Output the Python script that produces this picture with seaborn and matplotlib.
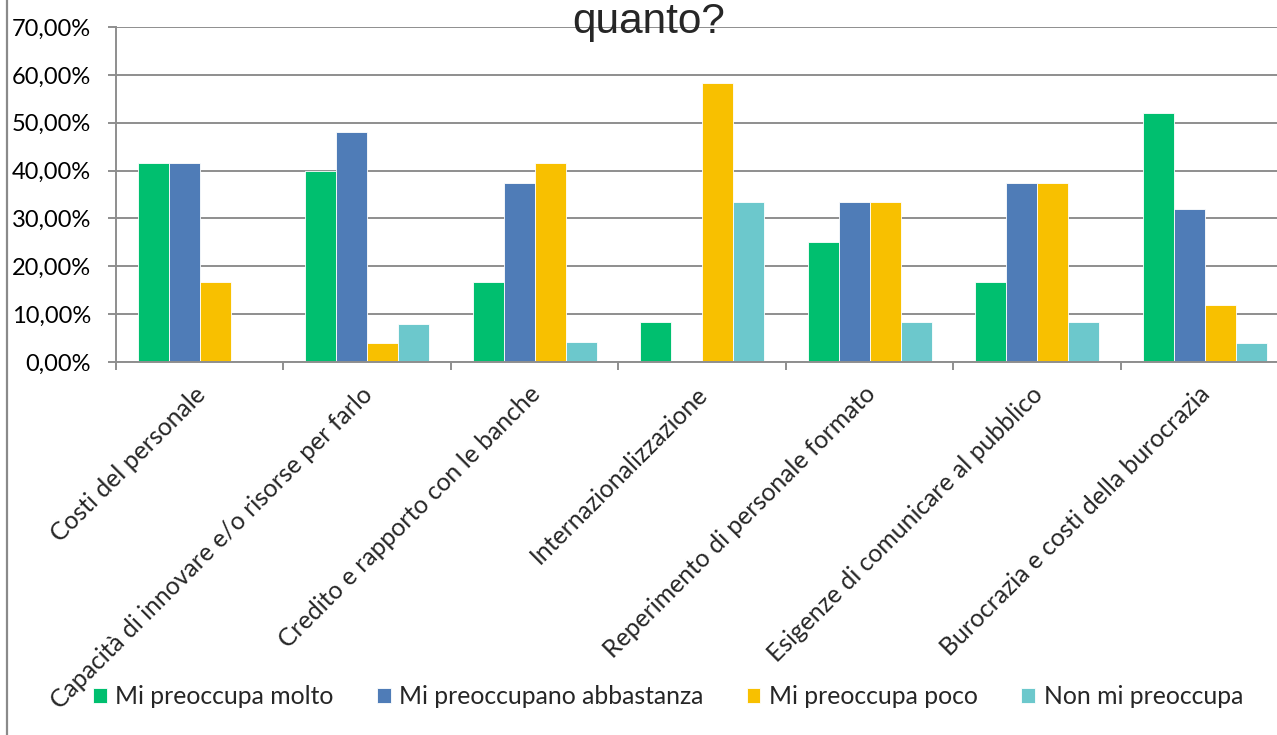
# Imports

import pandas as pd
import matplotlib
matplotlib.use("Agg")
import matplotlib.pyplot as plt
from matplotlib.ticker import FuncFormatter, MultipleLocator
from matplotlib.lines import Line2D
from matplotlib.transforms import ScaledTranslation
import seaborn as sns

# Data

CATEGORIES = [
    "Costi del personale",
    "Capacità di innovare e/o risorse per farlo",
    "Credito e rapporto con le banche",
    "Internazionalizzazione",
    "Reperimento di personale formato",
    "Esigenze di comunicare al pubblico",
    "Burocrazia e costi della burocrazia",
]
SERIES = [
    "Mi preoccupa molto",
    "Mi preoccupano abbastanza",
    "Mi preoccupa poco",
    "Non mi preoccupa",
]
MOLTO = [0.4167, 0.40, 0.1667, 0.0833, 0.25, 0.1667, 0.52]
ABBASTANZA = [0.4167, 0.48, 0.375, 0.0, 0.3333, 0.375, 0.32]
POCO = [0.1667, 0.04, 0.4167, 0.5833, 0.3333, 0.375, 0.12]
NON = [0.0, 0.08, 0.0417, 0.3333, 0.0833, 0.0833, 0.04]
COLORS = ["#00BF6F", "#4F7CB7", "#F8C000", "#6CC8CC"]

# Layout

W, H = 1277, 735
GRID = "#8e8e8e"
FONT = ["Lato", "DejaVu Sans"]
LABEL_SIZE = 17.8


def build_frame():
    rows = []
    for name, vals in zip(SERIES, [MOLTO, ABBASTANZA, POCO, NON]):
        for cat, v in zip(CATEGORIES, vals):
            rows.append({"categoria": cat, "serie": name, "valore": v})
    return pd.DataFrame(rows)


def pct(v, _):
    return f"{v * 100:.2f}%".replace(".", ",")


def draw():
    sns.set_style("white")
    plt.rcParams["font.family"] = FONT

    df = build_frame()
    fig = plt.figure(figsize=(W / 100, H / 100), dpi=100)
    ax = fig.add_axes([116 / W, 1 - 362 / H, (1288.5 - 116) / W, 335 / H])

    sns.barplot(
        data=df,
        x="categoria",
        y="valore",
        hue="serie",
        hue_order=SERIES,
        palette=COLORS,
        width=0.74,
        saturation=1,
        edgecolor="white",
        linewidth=0.6,
        ax=ax,
    )

    ax.set_xlim(-0.5, len(CATEGORIES) - 0.5)
    ax.set_ylim(0, 0.7)
    ax.yaxis.set_major_locator(MultipleLocator(0.1))
    ax.yaxis.set_major_formatter(FuncFormatter(pct))
    ax.set_axisbelow(True)
    ax.grid(axis="y", color=GRID, linewidth=1.4)
    ax.set_xlabel("")
    ax.set_ylabel("")

    for side in ["top", "right"]:
        ax.spines[side].set_visible(False)
    for side in ["left", "bottom"]:
        ax.spines[side].set_color(GRID)
        ax.spines[side].set_linewidth(1.4)

    ax.tick_params(axis="y", left=True, length=6, width=1.4, color=GRID,
                   pad=12, labelsize=17, labelcolor="black")
    ax.set_xticks(range(len(CATEGORIES)))
    ax.set_xticks([i - 0.5 for i in range(len(CATEGORIES) + 1)], minor=True)
    ax.tick_params(axis="x", which="major", length=0, pad=19)
    ax.tick_params(axis="x", which="minor", bottom=True, length=6,
                   width=1.4, color=GRID)
    ax.set_xticklabels(CATEGORIES, rotation=45, ha="right", va="top",
                       rotation_mode="anchor", fontsize=LABEL_SIZE)
    shift = ScaledTranslation(-0.065, 0.06, fig.dpi_scale_trans)
    for lab in ax.get_xticklabels():
        lab.set_transform(lab.get_transform() + shift)

    handles, labels = ax.get_legend_handles_labels()
    ax.get_legend().remove()
    fig.legend(
        handles,
        labels,
        loc="center",
        bbox_to_anchor=(668 / W, 1 - 697 / H),
        ncol=4,
        frameon=False,
        fontsize=LABEL_SIZE,
        handlelength=0.55,
        handleheight=0.55,
        handletextpad=0.35,
        columnspacing=1.75,
    )

    fig.text(649 / W, 1 - 33 / H, "quanto?", ha="center", va="baseline",
             fontsize=30.5, family=["Liberation Sans", "DejaVu Sans"])

    fig.add_artist(Line2D([7 / W, 7 / W], [0, 1], transform=fig.transFigure,
                          color="#8a8a8a", linewidth=1.6))

    fig.savefig("out.png", dpi=100)


# Run

if __name__ == "__main__":
    draw()
